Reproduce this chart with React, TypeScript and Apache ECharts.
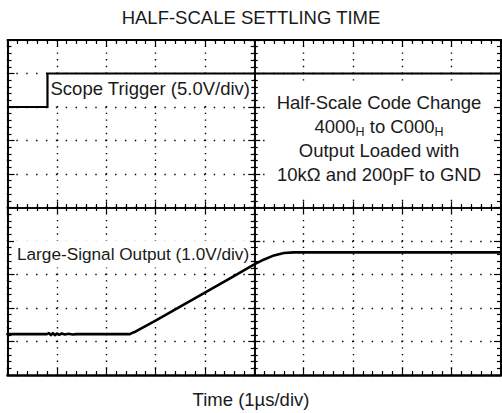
import React, { useEffect, useRef } from 'react';
import * as echarts from 'echarts';

// ---- data (x in µs = divisions, y in screen divisions 0..10) ----
const TITLE = 'HALF-SCALE SETTLING TIME';
const X_LABEL = 'Time (1µs/div)';
const TRIGGER_LABEL = 'Scope Trigger (5.0V/div)';
const OUTPUT_LABEL = 'Large-Signal Output (1.0V/div)';
const NOTE_LINES = ['Half-Scale Code Change', '4000{sub|H} to C000{sub|H}', 'Output Loaded with', '10kΩ and 200pF to GND'];

const X_RANGE = [0, 10];
const Y_RANGE = [0, 10];

const triggerTime = [0, 0.81, 0.81, 10];
const triggerLevel = [8, 8, 9, 9];

const outputTime = [0, 0.8, 0.84, 0.88, 0.92, 0.96, 1.0, 1.05, 1.1, 1.16, 1.24, 1.32, 1.4, 2.48, 2.55, 2.6, 3.0, 3.5, 4.0, 4.5, 5.0, 5.2, 5.4, 5.6, 5.8, 10];
const outputLevel = [1.22, 1.22, 1.25, 1.19, 1.25, 1.19, 1.24, 1.2, 1.24, 1.21, 1.23, 1.21, 1.22, 1.22, 1.27, 1.3, 1.62, 2.04, 2.46, 2.88, 3.3, 3.45, 3.57, 3.64, 3.66, 3.66];

// ---- layout ----
const W = 502;
const H = 413;
const G_LEFT = 7.5;
const G_TOP = 40;
const G_W = 493.5;
const G_H = 335;
const FONT = '"Liberation Sans", Arial, Helvetica, sans-serif';
const INK = '#1a1a1a';

const zip = (a: number[], b: number[]) => a.map((v, i) => [v, b[i]]);

function borderAxis(position: string, extra: any = {}) {
  return {
    type: 'value',
    position,
    min: X_RANGE[0],
    max: X_RANGE[1],
    interval: 1,
    axisLabel: { show: false },
    axisLine: { show: true, onZero: false, lineStyle: { color: '#000', width: 2 } },
    axisTick: { show: true, inside: true, length: 7, lineStyle: { color: '#000', width: 1.2 } },
    minorTick: { show: true, splitNumber: 5, length: 4, lineStyle: { color: '#000', width: 1.2 } },
    splitLine: { show: false },
    ...extra,
  };
}

function centerAxis(position: string, offset: number, inside: boolean) {
  return {
    type: 'value',
    position,
    offset,
    min: X_RANGE[0],
    max: X_RANGE[1],
    interval: 1,
    axisLabel: { show: false },
    axisLine: { show: true, onZero: false, lineStyle: { color: '#000', width: 1.5 } },
    axisTick: { show: true, inside, length: 6, lineStyle: { color: '#000', width: 1.2 } },
    minorTick: { show: true, splitNumber: 5, length: 3.5, lineStyle: { color: '#000', width: 1.2 } },
    splitLine: { show: false },
  };
}

export default function App() {
  const ref = useRef<HTMLDivElement>(null);
  useEffect(() => {
    document.body.style.margin = '0';
    if (!ref.current) return;
    const chart = echarts.init(ref.current, undefined, { renderer: 'svg' });
    const vPeriod = G_H / 50;
    const hPeriod = G_W / 50;
    const option: any = {
      animation: false,
      backgroundColor: '#fff',
      grid: { left: G_LEFT, top: G_TOP, width: G_W, height: G_H, show: false, containLabel: false },
      xAxis: [
        borderAxis('bottom', {
          axisLine: { show: true, onZero: false, lineStyle: { color: '#000', width: 2.5 } },
          splitLine: { show: true, lineStyle: { color: '#000', width: 1.4, type: [1.4, vPeriod - 1.4], dashOffset: 0.7 } },
        }),
        borderAxis('top'),
        centerAxis('bottom', -G_H / 2, true),
        centerAxis('bottom', -G_H / 2, false),
      ],
      yAxis: [
        borderAxis('left', {
          min: Y_RANGE[0], max: Y_RANGE[1],
          splitLine: { show: true, lineStyle: { color: '#000', width: 1.4, type: [1.4, hPeriod - 1.4], dashOffset: 0.7 } },
        }),
        borderAxis('right', { min: Y_RANGE[0], max: Y_RANGE[1] }),
        { ...centerAxis('left', -G_W / 2, true), min: Y_RANGE[0], max: Y_RANGE[1] },
        { ...centerAxis('left', -G_W / 2, false), min: Y_RANGE[0], max: Y_RANGE[1] },
      ],
      series: [
        {
          type: 'line', xAxisIndex: 0, yAxisIndex: 0, data: zip(triggerTime, triggerLevel),
          showSymbol: false, symbol: 'none', z: 3,
          lineStyle: { color: '#000', width: 2.2, join: 'miter' },
        },
        {
          type: 'line', xAxisIndex: 0, yAxisIndex: 0, data: zip(outputTime, outputLevel),
          showSymbol: false, symbol: 'none', z: 3,
          lineStyle: { color: '#000', width: 2.6, join: 'round', cap: 'round' },
        },
      ],
      graphic: [
        {
          type: 'text', x: 251, y: 17, z: 1,
          style: { text: TITLE, font: `18.5px ${FONT}`, fill: INK, align: 'center', verticalAlign: 'middle' },
        },
        {
          type: 'text', x: 251, y: 399, z: 1,
          style: { text: X_LABEL, font: `18.5px ${FONT}`, fill: INK, align: 'center', verticalAlign: 'middle' },
        },
        {
          type: 'text', x: 48.5, y: 88, z: 1,
          style: {
            text: TRIGGER_LABEL, font: `18.5px ${FONT}`, fill: INK, align: 'left', verticalAlign: 'middle',
            backgroundColor: '#fff', padding: [4, 1, 4, 2],
          },
        },
        {
          type: 'text', x: 14, y: 254, z: 1,
          style: {
            text: OUTPUT_LABEL, font: `17.2px ${FONT}`, fill: INK, align: 'left', verticalAlign: 'middle',
            backgroundColor: '#fff', padding: [5, 1, 5, 3],
          },
        },
        {
          type: 'rect', z: 1,
          shape: { x: 270, y: 85, width: 222, height: 112 },
          style: { fill: '#fff' },
        },
        {
          type: 'text', x: 379, y: 90, z: 1,
          style: {
            text: NOTE_LINES.join('\n'), font: `18.5px ${FONT}`, fill: INK, align: 'center', verticalAlign: 'top',
            lineHeight: 24,
            rich: { sub: { fontSize: 12.5, fontFamily: FONT, fill: INK, lineHeight: 15, verticalAlign: 'bottom' } },
          },
        },
      ],
    };
    chart.setOption(option);
    return () => chart.dispose();
  }, []);
  return <div ref={ref} style={{ position: 'fixed', left: 0, top: 0, width: W, height: H }} />;
}
